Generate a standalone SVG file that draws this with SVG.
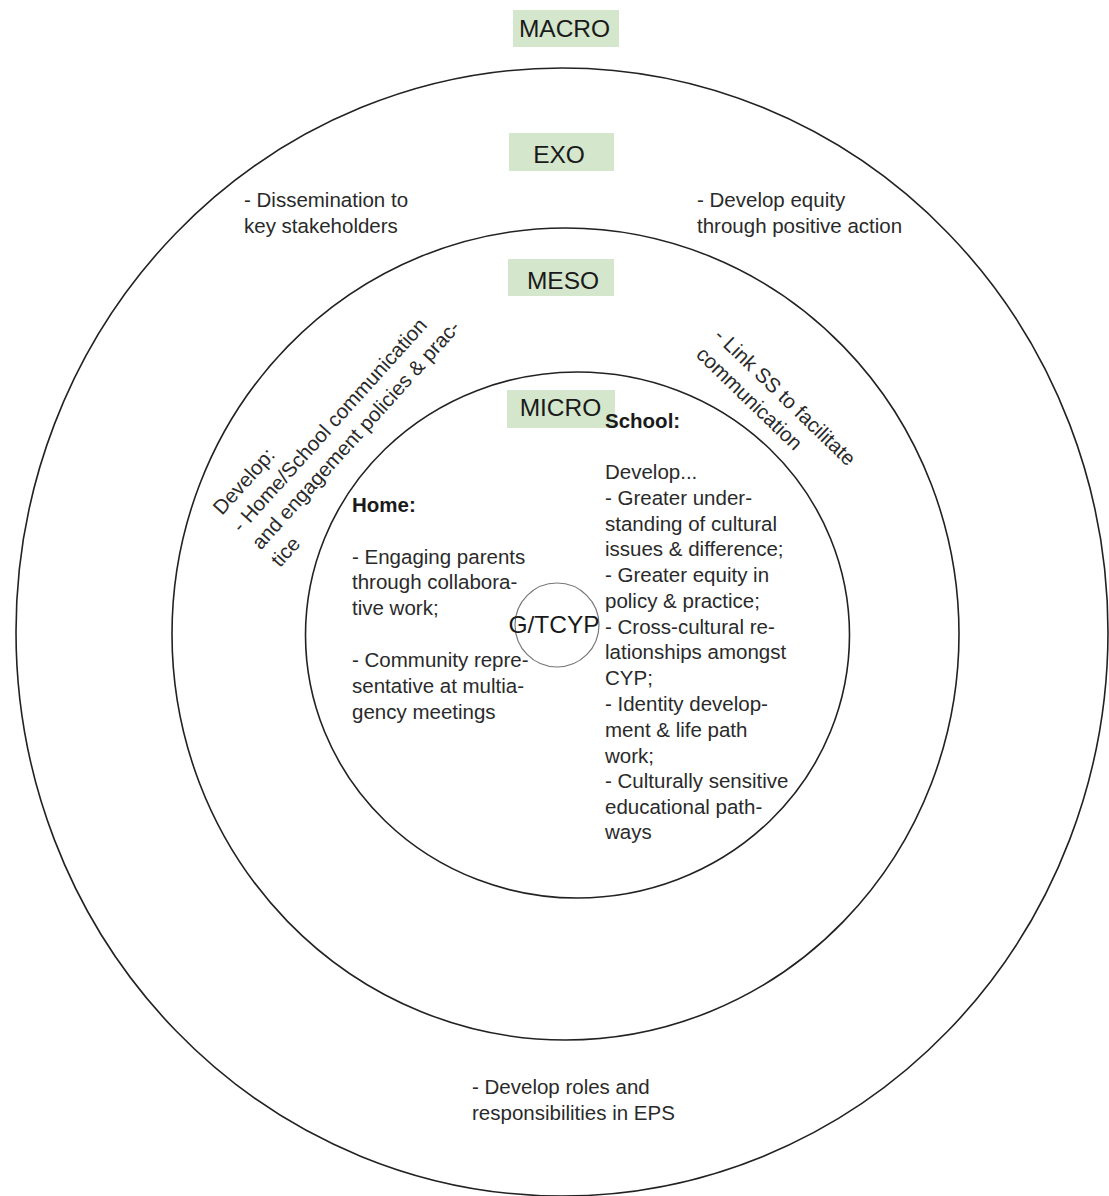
<svg xmlns="http://www.w3.org/2000/svg" width="1109" height="1196" viewBox="0 0 1109 1196">
  <style>
    .ring { fill: none; stroke: #222; stroke-width: 1.6; }
    .core { fill: none; stroke: #777; stroke-width: 1.2; }
    .lbl { fill: #d4e6cc; }
    .lt { font-family: "Liberation Sans", Arial, sans-serif; font-size: 24.5px; fill: #1a1a1a; text-anchor: middle; }
    .t { font-family: "Liberation Sans", Arial, sans-serif; font-size: 20.5px; fill: #2a2a2a; }
    .b { font-weight: bold; fill: #1a1a1a; }
  </style>
  <rect width="1109" height="1196" fill="#ffffff"/>

  <g id="ring-exo"><ellipse class="ring" cx="562" cy="632" rx="546" ry="564"/></g>
  <g id="ring-meso"><ellipse class="ring" cx="565.5" cy="634" rx="393.5" ry="406"/></g>
  <g id="ring-micro"><ellipse class="ring" cx="577.5" cy="635" rx="272" ry="263"/></g>

  <g id="label-macro">
    <rect class="lbl" x="513" y="10" width="106" height="37"/>
    <text class="lt" x="564.5" y="37">MACRO</text>
  </g>
  <g id="label-exo">
    <rect class="lbl" x="509" y="133" width="105" height="38"/>
    <text class="lt" x="559" y="163">EXO</text>
  </g>
  <g id="label-meso">
    <rect class="lbl" x="508" y="259" width="106" height="37"/>
    <text class="lt" x="563" y="289">MESO</text>
  </g>
  <g id="label-micro">
    <rect class="lbl" x="507" y="390" width="108" height="38"/>
    <text class="lt" x="560.5" y="416">MICRO</text>
  </g>

  <g id="core">
    <circle class="core" cx="557" cy="625" r="42"/>
    <text class="lt" x="554" y="633">G/TCYP</text>
  </g>

  <g id="exo-left">
    <text class="t" x="244" y="207">- Dissemination to</text>
    <text class="t" x="244" y="233">key stakeholders</text>
  </g>
  <g id="exo-right">
    <text class="t" x="697" y="207">- Develop equity</text>
    <text class="t" x="697" y="233">through positive action</text>
  </g>
  <g id="exo-bottom">
    <text class="t" x="472" y="1094">- Develop roles and</text>
    <text class="t" x="472" y="1120">responsibilities in EPS</text>
  </g>

  <g id="meso-left" transform="translate(222,516) rotate(-48)">
    <text class="t" x="0" y="0">Develop:</text>
    <text class="t" x="0" y="26">- Home/School communication</text>
    <text class="t" x="0" y="52">and engagement policies &amp; prac-</text>
    <text class="t" x="0" y="78">tice</text>
  </g>
  <g id="meso-right" transform="translate(713,337) rotate(44)">
    <text class="t" x="0" y="0">- Link SS to facilitate</text>
    <text class="t" x="0" y="26">communication</text>
  </g>

  <g id="micro-home">
    <text class="t b" x="352" y="512">Home:</text>
    <text class="t" x="352" y="564">- Engaging parents</text>
    <text class="t" x="352" y="589">through collabora-</text>
    <text class="t" x="352" y="615">tive work;</text>
    <text class="t" x="352" y="667">- Community repre-</text>
    <text class="t" x="352" y="693">sentative at multia-</text>
    <text class="t" x="352" y="719">gency meetings</text>
  </g>
  <g id="micro-school">
    <text class="t b" x="605" y="428">School:</text>
    <text class="t" x="605" y="479">Develop...</text>
    <text class="t" x="605" y="505">- Greater under-</text>
    <text class="t" x="605" y="531">standing of cultural</text>
    <text class="t" x="605" y="556">issues &amp; difference;</text>
    <text class="t" x="605" y="582">- Greater equity in</text>
    <text class="t" x="605" y="608">policy &amp; practice;</text>
    <text class="t" x="605" y="634">- Cross-cultural re-</text>
    <text class="t" x="605" y="659">lationships amongst</text>
    <text class="t" x="605" y="685">CYP;</text>
    <text class="t" x="605" y="711">- Identity develop-</text>
    <text class="t" x="605" y="737">ment &amp; life path</text>
    <text class="t" x="605" y="763">work;</text>
    <text class="t" x="605" y="788">- Culturally sensitive</text>
    <text class="t" x="605" y="814">educational path-</text>
    <text class="t" x="605" y="839">ways</text>
  </g>
</svg>
